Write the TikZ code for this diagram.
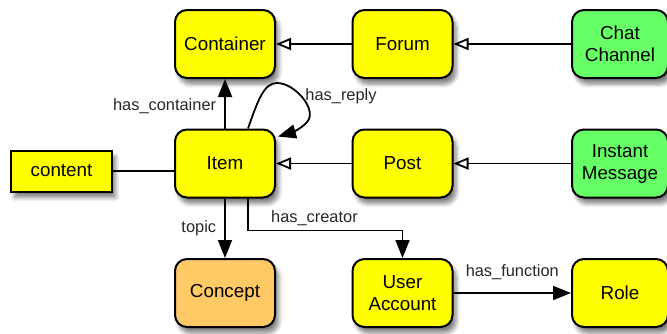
\documentclass[tikz,border=0pt]{standalone}
\usepackage{fontspec}
\setmainfont{Liberation Sans}
\usetikzlibrary{arrows.meta,shadows.blur,calc}

\definecolor{boxyellow}{HTML}{FFFF00}
\definecolor{boxgreen}{HTML}{66FF66}
\definecolor{boxorange}{HTML}{FFC966}

\tikzset{
  entity/.style={draw=black, line width=1pt, rounded corners=6pt,
    minimum width=50pt, minimum height=34pt, align=center,
    font=\fontsize{9.4}{11}\selectfont, inner sep=1pt,
    blur shadow={shadow xshift=1.8pt, shadow yshift=-3pt, shadow blur steps=6, shadow opacity=50}},
  attrbox/.style={entity, rounded corners=0pt, minimum width=50.5pt, minimum height=20.5pt},
  yel/.style={fill=boxyellow},
  grn/.style={fill=boxgreen},
  org/.style={fill=boxorange},
  link/.style={line width=0.9pt, draw=black},
  isa/.style={link, -{Triangle[open, length=7.5pt, width=6pt, line width=0.9pt]}},
  rel/.style={link, -{Triangle[length=9pt, width=7pt]}},
  lbl/.style={font=\fontsize{8.2}{9.5}\selectfont, text=black!85, inner sep=1pt}
}

\begin{document}
\begin{tikzpicture}[x=0.5pt, y=-0.5pt]
  \useasboundingbox (0,0) rectangle (667,333);

  % classes
  \node[entity, yel] (container) at (225,44) {Container};
  \node[entity, yel] (forum) at (402.5,44) {Forum};
  \node[entity, grn, minimum width=48pt] (chat) at (620,44) {Chat\\Channel};
  \node[entity, yel] (item) at (225,163.5) {Item};
  \node[entity, yel] (post) at (402.5,163.5) {Post};
  \node[entity, grn, minimum width=48pt] (instant) at (620,163.5) {Instant\\Message};
  \node[attrbox, yel] (content) at (61.5,171) {content};
  \node[entity, org] (concept) at (225,293) {Concept};
  \node[entity, yel] (user) at (402.5,293) {User\\Account};
  \node[entity, yel, minimum width=48pt] (role) at (620,293) {Role};

  % subclass links
  \draw[isa] (forum) -- (container);
  \draw[isa] (chat) -- (forum);
  \draw[isa] (post) -- (item);
  \draw[isa] (instant) -- (post);

  % attribute
  \draw[link] (content.east) -- (content.east -| item.west);

  % relations
  \draw[rel] (item) -- node[lbl, left=3pt, pos=0.45] {has\_container} (container);
  \draw[rel] (item) -- node[lbl, left=3pt, pos=0.5] {topic} (concept);

  \coordinate (crOut) at ($(item.south)+(23,0)$);
  \coordinate (crBend) at ($(crOut)+(0,32)$);
  \draw[rel] (crOut) -- (crBend) -- node[lbl, above=1pt, pos=0.43] {has\_creator} (crBend -| user.north) -- (user.north);

  \draw[rel] (user) -- node[lbl, above=5pt] {has\_function} (role);

  % reflexive reply link
  \coordinate (rpOut) at ($(item.north)+(23,0)$);
  \coordinate (rpIn) at ($(item.north east)+(2,8)$);
  \draw[rel] (rpOut) .. controls (258,100) and (264,83) .. (277,83)
    .. controls (295,83) and (318,110) .. (307,122)
    .. controls (300,130) and (290,133) .. (rpIn);
  \node[lbl] (replylbl) at (341,96) {has\_reply};
\end{tikzpicture}
\end{document}
